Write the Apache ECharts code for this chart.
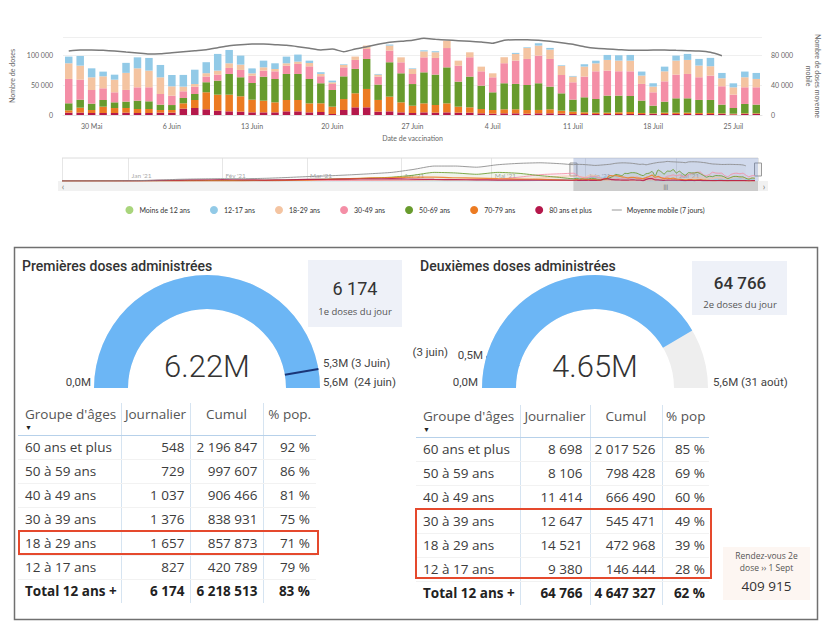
<!DOCTYPE html>
<html>
<head>
<meta charset="utf-8">
<title>Vaccination - doses administrées</title>
<script src="https://cdn.jsdelivr.net/npm/echarts/dist/echarts.min.js"></script>
<style>
  body { margin: 0; background: #fff; }
  #main { position: absolute; left: 0; top: 0; width: 830px; height: 630px; }
  .tbl { position: absolute; border-collapse: collapse; table-layout: fixed;
         font-family: "Open Sans", "Noto Sans", sans-serif; font-size: 13.5px; color: #3c3c3c; }
  .tbl th, .tbl td { box-sizing: border-box; padding: 0; white-space: nowrap; }
  .tbl th { font-weight: normal; color: #555; height: 32px; vertical-align: top; padding-top: 4px;
            line-height: 14px; text-align: center; border-bottom: 1.5px solid #b7d1ea; }
  .tbl td { height: 24px; line-height: 23px; border-bottom: 1px solid #f2f2f2; text-align: right; }
  .tbl th + th, .tbl td + td { border-left: 1px solid #d6e4f1; }
  .tbl td:first-child { text-align: left; }
  .tbl tr.total td { font-weight: bold; color: #222; border-bottom: none; }
  .tbl .arr { display: block; font-size: 7px; line-height: 7px; margin-top: 3px; color: #222; }
  .redbox { position: absolute; border: 2px solid #e5492d; box-sizing: border-box; }
</style>
</head>
<body>
<div id="main"></div>

<script type="text/javascript">
    // --- doses journalières par classe d'âge (28 mai -> 27 juillet) ---
    var moisCourt = ['Jan', 'Fév', 'Mar', 'Avr', 'Mai', 'Juin', 'Juil', 'Août', 'Sept', 'Oct', 'Nov', 'Déc'];
    var categories = [];
    for (var i = 0; i < 61; i++) {
        var d = new Date(2021, 4, 28 + i);
        categories.push(d.getDate() + ' ' + moisCourt[d.getMonth()]);
    }

    var moins12 = [];
    var dose80 = [3900,3900,3300,3300,3300,3900,3300,3300,3900,3900, 10600,11700,9500,7200,6100,5600,4400,4400,4400,6100,
        6100,4400,5000,1700,8300,12800,12800,5600,6100,4400, 3300,4400,3900,4400,3900,3900,2800,2200,2800,2800,
        2200,2800,2800,2200,1700,1700,1700,1700,1700,1700, 1700,1700,1700,1700,1700,1700,1700,1700,1100,1700,1700];
    var dose7079 = [3900,8300,5000,10600,8300,7800,6700,6700,4400,4400, 8900,13300,28400,26700,27800,25600,21100,19500,16700,18900,
        18900,15000,14500,12200,18300,23400,30600,19500,24500,16700, 12200,15000,12800,15000,10000,8900,7200,6100,6700,6700,
        6100,5600,6700,5000,3900,2800,2200,2200,2800,3300, 1700,1100,2200,2200,2200,1700,1700,1100,1100,1100,1100];
    var dose5069 = [11700,13300,10600,11100,9500,10600,13900,12800,8900,8300, 8900,10000,16700,23400,34500,31700,27800,40000,38900,43400,
        43400,40600,33400,27800,37800,40600,50000,25600,57300,48400, 36100,51700,50600,60000,41700,51200,38900,29500,43400,42300,
        41700,44500,37800,28900,20000,25000,22800,28400,27800,26700, 20600,12800,18300,23900,23900,21700,21700,14500,9500,15600,14500];
    var dose3049 = [40600,33400,22800,19500,16700,19500,22200,23400,17800,15600, 11100,12200,9500,10000,10000,12200,12200,10000,12800,13900,
        16700,21100,11700,10000,15000,15000,16700,13300,19500,18300, 16700,25000,27800,32200,26700,32200,23900,25000,33400,38900,
        43400,46100,46100,30600,28900,34500,46100,41700,40600,41100, 27800,22200,33900,39500,40600,37800,40600,30600,22200,27800,28900];
    var dose1829 = [26100,23400,21100,20000,21100,28400,31700,27800,27800,15600, 7800,4400,5600,6700,7800,8900,3900,5600,3900,3900,
        3900,5600,3900,2800,3900,5600,5600,3300,8300,8300, 8300,10000,9500,12200,8300,8300,7800,6700,10000,11100,
        18300,16700,15600,15000,9500,16700,13300,17800,17800,17800, 13900,9500,16700,23400,23400,19500,15600,13300,12200,16700,13900];
    var dose1217 = [11100,16100,15000,7800,8300,16700,18300,21100,20600,18900, 19500,23900,18300,27800,22200,15000,8300,11100,9500,11100,
        11700,3900,2800,2800,1100,0,0,1100,1700,0, 1100,1700,1700,0,0,0,0,0,0,1700,
        1100,3900,2800,1100,1100,3900,4400,8300,8900,9500, 6700,5600,7800,8300,10000,11100,13900,8900,6700,9500,10000];
    var moyenne = [85300,86700,86700,86200,85300,84000,82700,81300,81700,83000,84400,85800,87100,89800,92400,
        93800,94700,94700,93800,92900,91100,88900,86700,88000,84400,88000,91100,94200,96900,98200,99600,
        102200,100900,100000,99100,98200,97300,95600,99600,100400,100400,99600,98200,96400,94200,91000,
        88900,88000,87100,86200,86200,86700,86700,86200,85800,85300,83600,79100, null, null, null];

    // --- navigateur : historique hebdomadaire avant la fenêtre ---
    var navWeeks = ['2020-12-10','2020-12-28','2021-01-04','2021-01-11','2021-01-18','2021-01-25','2021-02-01','2021-02-08',
        '2021-02-15','2021-02-22','2021-03-01','2021-03-08','2021-03-15','2021-03-22','2021-03-29','2021-04-05',
        '2021-04-12','2021-04-19','2021-04-26','2021-05-03','2021-05-10','2021-05-17','2021-05-24'];
    var navMoyenne = [0,500,2000,5000,9000,11000,12000,12000,14000,18000,23000,27000,32000,38000,45000,60000,78000,78000,72000,85000,92000,95000,90000];
    var nav80 = [0,0,1000,3000,5000,6000,7000,6000,5000,6000,8000,9000,10000,11000,12000,10000,8000,7000,6000,5000,5000,4000,4000];
    var nav7079 = [0,0,0,0,500,1000,1000,1000,2000,3000,5000,8000,12000,16000,18000,20000,20000,17000,15000,12000,10000,8000,6000];
    var nav5069 = [0,500,1000,1500,2000,2500,3000,3500,4000,5000,8000,10000,12000,15000,20000,30000,45000,42000,35000,45000,40000,28000,18000];
    var nav3049 = [0,0,500,1000,1000,1500,1500,2000,2000,2500,3000,3000,3500,4000,5000,6000,8000,8000,9000,10000,20000,33000,38000];
    var nav1829 = [0,0,300,500,800,1000,1000,1200,1500,1500,2000,2000,2500,3000,3500,4000,5000,5000,5500,6000,8000,15000,25000];
    var nav1217 = [0,0,0,0,0,0,0,0,0,0,0,0,0,0,0,0,0,0,0,0,0,3000,8000];

    // --- tableaux ---
    var ageGroups = ['60 ans et plus', '50 à 59 ans', '40 à 49 ans', '30 à 39 ans', '18 à 29 ans', '12 à 17 ans', 'Total 12 ans +'];
    var dose1Daily = [548, 729, 1037, 1376, 1657, 827, 6174];
    var dose1Cumul = [2196847, 997607, 906466, 838931, 857873, 420789, 6218513];
    var dose1Pct = [92, 86, 81, 75, 71, 79, 83];
    var dose2Daily = [8698, 8106, 11414, 12647, 14521, 9380, 64766];
    var dose2Cumul = [2017526, 798428, 666490, 545471, 472968, 146444, 4647327];
    var dose2Pct = [85, 69, 60, 49, 39, 28, 62];

    // --- jauges ---
    var gaugeMax = [5.6, 5.6];
    var gaugeTarget = [5.3, 0.5];
    var targetDates = ['3 Juin', '3 juin'];
    var maxDates = ['24 juin', '31 août'];
    var rdvDose2 = 409915;

    var colors = {
        moins12: '#a9d57c', d1217: '#92cae7', d1829: '#f4c4a1', d3049: '#f48ea6',
        d5069: '#689b2d', d7079: '#ec7b22', d80: '#b5184b', moy: '#7b7b7b'
    };

    function fmtNum(n) {
        return String(n).replace(/\B(?=(\d{3})+(?!\d))/g, '\u00a0');
    }
    function fmtM(v) {
        return v.toFixed(1).replace('.', ',') + 'M';
    }
    function ts(s) {
        var p = s.split('-');
        return new Date(+p[0], +p[1] - 1, +p[2]).getTime();
    }

    function navSerie(weekly, daily) {
        var out = [];
        for (var i = 0; i < navWeeks.length; i++) out.push([ts(navWeeks[i]), weekly[i]]);
        for (var j = 0; j < daily.length; j++) {
            if (daily[j] != null) out.push([new Date(2021, 4, 28 + j).getTime(), daily[j]]);
        }
        return out;
    }

    var navMin = ts('2020-12-10');
    var navMax = ts('2021-07-28');
    var winStart = ts('2021-05-28');
    var winEnd = navMax;

    function barSerie(name, data, color) {
        return {
            name: name, type: 'bar', stack: 'doses', data: data, barWidth: 7.5,
            xAxisIndex: 0, yAxisIndex: 0, itemStyle: { color: color }
        };
    }
    function navLine(name, data, color, width) {
        return {
            name: name, type: 'line', xAxisIndex: 1, yAxisIndex: 2, data: data, symbol: 'none', silent: true,
            smooth: 0.2, lineStyle: { color: color, width: width || 1, opacity: 0.85 },
            areaStyle: { color: color, opacity: 0.08 }
        };
    }
    function gaugeBase(cx, max) {
        return {
            type: 'gauge', center: [cx, 388], radius: 113, startAngle: 180, endAngle: 0,
            min: 0, max: max, splitNumber: 1,
            axisTick: { show: false }, splitLine: { show: false }, axisLabel: { show: false },
            anchor: { show: false }, title: { show: false }
        };
    }

    var gaugeSeries = [];
    var cxs = [207, 595];
    var cumTotals = [dose1Cumul[6], dose2Cumul[6]];
    for (var k = 0; k < 2; k++) {
        var gp = gaugeBase(cxs[k], gaugeMax[k]);
        gp.axisLine = { lineStyle: { width: 34, color: [[1, '#eeeeee']] } };
        gp.progress = { show: true, width: 34, itemStyle: { color: '#6cb6f5' } };
        gp.pointer = { show: false };
        gp.detail = {
            offsetCenter: [0, -22], fontSize: 31, fontFamily: 'Roboto', fontWeight: 300, color: '#333',
            formatter: function (v) { return v.toFixed(2) + 'M'; }
        };
        gp.data = [{ value: cumTotals[k] / 1e6 }];
        gaugeSeries.push(gp);

        var gt = gaugeBase(cxs[k], gaugeMax[k]);
        gt.axisLine = { show: false };
        gt.progress = { show: false };
        gt.pointer = { show: true, icon: 'rect', length: 34, width: 2, offsetCenter: [0, -79] };
        gt.itemStyle = { color: '#1a3577' };
        gt.detail = { show: false };
        gt.data = [{ value: gaugeTarget[k] }];
        gaugeSeries.push(gt);
    }

    var small = { fontSize: 7, color: '#666', fontFamily: 'Lato' };

    var option = {
        animation: false,
        textStyle: { fontFamily: 'Lato, sans-serif' },
        legend: {
            top: 201, left: 'center', itemWidth: 10, itemHeight: 8, itemGap: 20,
            textStyle: { fontSize: 7, color: '#333', fontFamily: 'Lato' },
            data: [
                { name: 'Moins de 12 ans', icon: 'circle' },
                { name: '12-17 ans', icon: 'circle' },
                { name: '18-29 ans', icon: 'circle' },
                { name: '30-49 ans', icon: 'circle' },
                { name: '50-69 ans', icon: 'circle' },
                { name: '70-79 ans', icon: 'circle' },
                { name: '80 ans et plus', icon: 'circle' },
                { name: 'Moyenne mobile (7 jours)', icon: 'path://M0,0H20V1.6H0Z' }
            ]
        },
        grid: [
            { left: 63, right: 66, top: 37, height: 78 },
            { left: 62, right: 72, top: 158, height: 23 }
        ],
        xAxis: [
            {
                type: 'category', gridIndex: 0, data: categories,
                axisTick: { show: false },
                axisLine: { lineStyle: { color: '#e3e3e3' } },
                axisLabel: {
                    fontSize: 7, color: '#666', margin: 7,
                    interval: function (idx) { return (idx - 2) % 7 === 0; }
                },
                name: 'Date de vaccination', nameLocation: 'middle', nameGap: 19, nameTextStyle: small
            },
            {
                type: 'time', gridIndex: 1, min: navMin, max: navMax, splitNumber: 8,
                axisLine: { show: false }, axisTick: { show: false },
                splitLine: { show: true, lineStyle: { color: '#e6e6e6' } },
                axisLabel: {
                    inside: true, fontSize: 6.5, color: '#aaa', align: 'left', margin: 2, padding: [0, 0, 0, 3],
                    showMinLabel: false, showMaxLabel: false,
                    formatter: function (v) {
                        var dd = new Date(v);
                        if (dd.getDate() !== 1) return '';
                        return moisCourt[dd.getMonth()] + " '" + String(dd.getFullYear()).slice(2);
                    }
                }
            }
        ],
        yAxis: [
            {
                type: 'value', gridIndex: 0, min: 0, max: 130000, interval: 50000,
                axisLabel: { fontSize: 7, color: '#666', margin: 10, showMaxLabel: false, formatter: fmtNum },
                splitLine: { lineStyle: { color: '#efefef' } },
                name: 'Nombre de doses', nameLocation: 'middle', nameGap: 41, nameTextStyle: small
            },
            {
                type: 'value', gridIndex: 0, min: 0, max: 104000, interval: 40000, position: 'right',
                axisLabel: { fontSize: 7, color: '#666', margin: 9, showMaxLabel: false, formatter: fmtNum },
                splitLine: { show: false },
                name: 'Nombre de doses moyenne\nmobile', nameLocation: 'middle', nameRotate: -90, nameGap: 38,
                nameTextStyle: { fontSize: 7, color: '#666', fontFamily: 'Lato', lineHeight: 9 }
            },
            { type: 'value', gridIndex: 1, min: 0, max: 120000, show: false }
        ],
        series: [
            barSerie('Moins de 12 ans', moins12, colors.moins12),
            barSerie('80 ans et plus', dose80, colors.d80),
            barSerie('70-79 ans', dose7079, colors.d7079),
            barSerie('50-69 ans', dose5069, colors.d5069),
            barSerie('30-49 ans', dose3049, colors.d3049),
            barSerie('18-29 ans', dose1829, colors.d1829),
            barSerie('12-17 ans', dose1217, colors.d1217),
            {
                name: 'Moyenne mobile (7 jours)', type: 'line', xAxisIndex: 0, yAxisIndex: 1, data: moyenne,
                symbol: 'none', smooth: 0.2, z: 5,
                lineStyle: { color: colors.moy, width: 1.5 }, itemStyle: { color: colors.moy }
            },
            navLine('nav-1217', navSerie(nav1217, dose1217), colors.d1217),
            navLine('nav-1829', navSerie(nav1829, dose1829), colors.d1829),
            navLine('nav-3049', navSerie(nav3049, dose3049), colors.d3049),
            navLine('nav-5069', navSerie(nav5069, dose5069), colors.d5069),
            navLine('nav-7079', navSerie(nav7079, dose7079), colors.d7079, 1.2),
            navLine('nav-80', navSerie(nav80, dose80), colors.d80, 1.2),
            (function () {
                var s = navLine('nav-moy', navSerie(navMoyenne, moyenne), '#8a8a8a', 1);
                s.areaStyle = { color: '#999', opacity: 0.04 };
                s.markArea = {
                    silent: true, itemStyle: { color: 'rgba(102,133,194,0.3)' },
                    data: [[{ xAxis: winStart }, { xAxis: winEnd }]]
                };
                return s;
            })()
        ].concat(gaugeSeries)
    };

    var chart = echarts.init(document.getElementById('main'), null, { renderer: 'svg' });
    chart.setOption(option);

    // --- éléments graphiques : cadres, titres, étiquettes des jauges, navigateur ---
    var g = [];
    function txt(x, y, s, size, color, align, weight, family) {
        g.push({
            type: 'text', x: x, y: y, silent: true,
            style: {
                text: s, fill: color || '#333', fontSize: size, fontWeight: weight || 'normal',
                fontFamily: family || 'Roboto, sans-serif',
                align: align || 'left', textAlign: align || 'left',
                verticalAlign: 'middle', textVerticalAlign: 'middle'
            }
        });
    }
    function box(x, y, w, h, fill, stroke, lw) {
        g.push({
            type: 'rect', silent: true, shape: { x: x, y: y, width: w, height: h },
            style: { fill: fill || 'none', stroke: stroke || 'none', lineWidth: lw || 0 }
        });
    }

    // cadre du bas
    box(14.5, 247.5, 803, 372, 'none', '#707070', 1.5);
    txt(22, 266, 'Premières doses administrées', 14, '#333', 'left', 500);
    txt(420, 266, 'Deuxièmes doses administrées', 14, '#333', 'left', 500);

    // cartes du jour
    box(308, 260, 94, 67, '#eef1f8');
    txt(355, 288, fmtNum(dose1Daily[6]), 18, '#333', 'center');
    txt(355, 311, '1e doses du jour', 9.5, '#555', 'center', 'normal', '"Open Sans", sans-serif');
    box(692, 261, 95, 54, '#eef1f8');
    txt(740, 283, fmtNum(dose2Daily[6]), 17, '#333', 'center', 500);
    txt(740, 304, '2e doses du jour', 9.5, '#555', 'center', 'normal', '"Open Sans", sans-serif');

    // étiquettes des jauges
    txt(91, 382, fmtM(0), 11.5, '#444', 'right');
    txt(323, 363, fmtM(gaugeTarget[0]) + ' (' + targetDates[0] + ')', 11.5, '#444', 'left');
    txt(323, 382, fmtM(gaugeMax[0]) + '  (' + maxDates[0] + ')', 11.5, '#444', 'left');
    txt(448, 352, '(' + targetDates[1] + ')', 11.5, '#444', 'right');
    txt(483, 355, fmtM(gaugeTarget[1]), 11.5, '#444', 'right');
    txt(478, 382, fmtM(0), 11.5, '#444', 'right');
    txt(713, 382, fmtM(gaugeMax[1]) + ' (' + maxDates[1] + ')', 11.5, '#444', 'left');

    // rendez-vous 2e dose
    box(723, 547, 87, 53, '#fdf6f2');
    txt(766.5, 555, 'Rendez-vous 2e', 8.5, '#555', 'center', 'normal', '"Open Sans", sans-serif');
    txt(766.5, 567, 'dose ›› 1 Sept', 8.5, '#555', 'center', 'normal', '"Open Sans", sans-serif');
    txt(766.5, 586, fmtNum(rdvDose2), 13.5, '#333', 'center', 'normal', '"Open Sans", sans-serif');

    // navigateur et barre de défilement
    var px1 = chart.convertToPixel({ xAxisIndex: 1 }, winStart);
    var px2 = chart.convertToPixel({ xAxisIndex: 1 }, winEnd);
    g.push({ type: 'line', silent: true, shape: { x1: 62, y1: 158, x2: 758, y2: 158 }, style: { stroke: '#dcdcdc', lineWidth: 1 } });
    box(58, 181, 710, 10, '#f1f1f1');
    box(px1, 181, px2 - px1, 10, '#cccccc');
    txt((px1 + px2) / 2, 186, '|||', 6, '#555', 'center', 'normal', 'Lato');
    txt(63, 186, '‹', 9, '#777', 'center', 'normal', 'Lato');
    txt(764, 186, '›', 9, '#777', 'center', 'normal', 'Lato');
    box(px1 - 3.5, 163, 7, 13, '#f2f2f2', '#999', 1);
    box(px2 - 3.5, 163, 7, 13, '#f2f2f2', '#999', 1);

    chart.setOption({ graphic: { elements: g } });

    // --- tableaux HTML ---
    function buildTable(left, top, widths, pads, pctHeader, daily, cumul, pct) {
        var t = document.createElement('table');
        t.className = 'tbl';
        t.style.left = left + 'px';
        t.style.top = top + 'px';
        var sum = 0;
        var html = '<colgroup>';
        for (var c = 0; c < widths.length; c++) { html += '<col style="width:' + widths[c] + 'px">'; sum += widths[c]; }
        html += '</colgroup>';
        t.style.width = sum + 'px';
        html += '<tr><th style="text-align:left;padding-left:' + pads[0] + 'px">Groupe d\'âges<span class="arr">▼</span></th>' +
            '<th>Journalier</th><th>Cumul</th><th>' + pctHeader + '</th></tr>';
        for (var r = 0; r < ageGroups.length; r++) {
            html += '<tr' + (r === ageGroups.length - 1 ? ' class="total"' : '') + '>' +
                '<td style="padding-left:' + pads[0] + 'px">' + ageGroups[r] + '</td>' +
                '<td style="padding-right:' + pads[1] + 'px">' + fmtNum(daily[r]) + '</td>' +
                '<td style="padding-right:' + pads[2] + 'px">' + fmtNum(cumul[r]) + '</td>' +
                '<td style="padding-right:' + pads[3] + 'px">' + pct[r] + '\u00a0%</td></tr>';
        }
        t.innerHTML = html;
        document.body.appendChild(t);
    }
    function redBox(x, y, w, h) {
        var b = document.createElement('div');
        b.className = 'redbox';
        b.style.left = x + 'px'; b.style.top = y + 'px';
        b.style.width = w + 'px'; b.style.height = h + 'px';
        document.body.appendChild(b);
    }

    buildTable(18, 403, [103, 69, 73, 53], [7, 5, 5, 6], '% pop.', dose1Daily, dose1Cumul, dose1Pct);
    buildTable(416, 405, [104, 70, 72, 47], [7, 7, 6, 4], '% pop', dose2Daily, dose2Cumul, dose2Pct);
    redBox(18, 530, 301, 25);
    redBox(415, 508, 297, 71);
</script>
</body>
</html>
